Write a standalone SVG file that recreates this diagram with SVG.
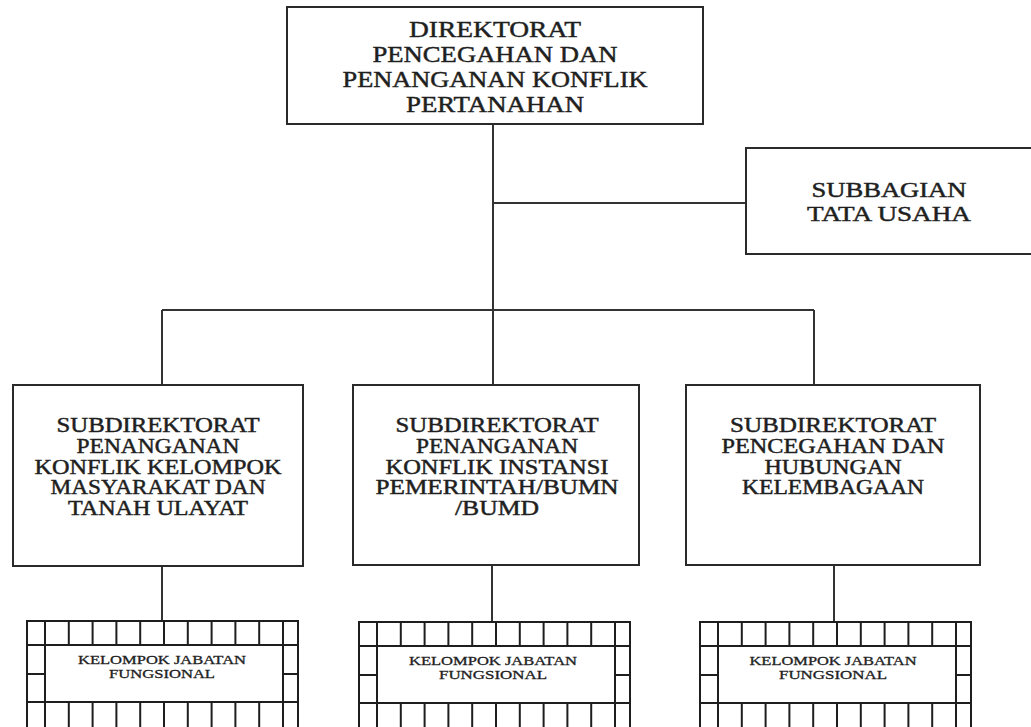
<svg xmlns="http://www.w3.org/2000/svg" xmlns:xlink="http://www.w3.org/1999/xlink" width="1031" height="727" viewBox="0 0 1031 727">
<style>
.box{fill:#fff;stroke:#2a2a2a;stroke-width:2}
.conn{fill:none;stroke:#333;stroke-width:2}
.grid{fill:none;stroke:#1e1e1e;stroke-width:2}
text{font-family:"Liberation Serif","Times New Roman",serif;fill:#1f1f1f;stroke:#1f1f1f;stroke-width:0.45px;text-anchor:middle}
.t1{font-size:23px}
.t2{font-size:21px}
.t3{font-size:20px}
.t4{font-size:12px;stroke-width:0.3px}
</style>
<defs>
<g id="jf-grid">
<rect class="grid" x="0" y="0" width="271" height="107"/>
<path class="grid" d="M0 24H271M0 81H271M18 24V81M256 24V81M0 53H18M256 53H271
M18 0V24M41.8 0V24M65.6 0V24M89.4 0V24M113.2 0V24M137 0V24M160.8 0V24M184.6 0V24M208.4 0V24M232.2 0V24M256 0V24
M18 81V107M41.8 81V107M65.6 81V107M89.4 81V107M113.2 81V107M137 81V107M160.8 81V107M184.6 81V107M208.4 81V107M232.2 81V107M256 81V107"/>
</g>
</defs>
<rect width="1031" height="727" fill="#fff"/>

<g id="connectors">
<path class="conn" d="M493 124V385"/>
<path class="conn" d="M493 203H746"/>
<path class="conn" d="M162 310H814"/>
<path class="conn" d="M162 310V385"/>
<path class="conn" d="M814 310V385"/>
<path class="conn" d="M162 566V621"/>
<path class="conn" d="M492 565V621"/>
<path class="conn" d="M834 565V621"/>
</g>

<g id="direktorat">
<rect class="box" x="287" y="7" width="416" height="117"/>
<text class="t1" x="495" y="37" textLength="172" lengthAdjust="spacingAndGlyphs">DIREKTORAT</text>
<text class="t1" x="495" y="62" textLength="245" lengthAdjust="spacingAndGlyphs">PENCEGAHAN DAN</text>
<text class="t1" x="495" y="87" textLength="305" lengthAdjust="spacingAndGlyphs">PENANGANAN KONFLIK</text>
<text class="t1" x="495" y="112" textLength="178" lengthAdjust="spacingAndGlyphs">PERTANAHAN</text>
</g>

<g id="subbagian-tu">
<rect class="box" x="746" y="148" width="300" height="106"/>
<text class="t2" x="889" y="197" textLength="155" lengthAdjust="spacingAndGlyphs">SUBBAGIAN</text>
<text class="t2" x="889" y="221" textLength="164" lengthAdjust="spacingAndGlyphs">TATA USAHA</text>
</g>

<g id="subdit-1">
<rect class="box" x="13" y="385" width="290" height="181"/>
<text class="t3" x="158" y="432" textLength="203" lengthAdjust="spacingAndGlyphs">SUBDIREKTORAT</text>
<text class="t3" x="158" y="453" textLength="163" lengthAdjust="spacingAndGlyphs">PENANGANAN</text>
<text class="t3" x="158" y="473.5" textLength="247" lengthAdjust="spacingAndGlyphs">KONFLIK KELOMPOK</text>
<text class="t3" x="158" y="494" textLength="215" lengthAdjust="spacingAndGlyphs">MASYARAKAT DAN</text>
<text class="t3" x="158" y="515" textLength="180" lengthAdjust="spacingAndGlyphs">TANAH ULAYAT</text>
</g>

<g id="subdit-2">
<rect class="box" x="353" y="385" width="286" height="180"/>
<text class="t3" x="497" y="432" textLength="203" lengthAdjust="spacingAndGlyphs">SUBDIREKTORAT</text>
<text class="t3" x="497" y="453" textLength="162" lengthAdjust="spacingAndGlyphs">PENANGANAN</text>
<text class="t3" x="497" y="473.5" textLength="223" lengthAdjust="spacingAndGlyphs">KONFLIK INSTANSI</text>
<text class="t3" x="497" y="494" textLength="243" lengthAdjust="spacingAndGlyphs">PEMERINTAH/BUMN</text>
<text class="t3" x="497" y="515" textLength="84" lengthAdjust="spacingAndGlyphs">/BUMD</text>
</g>

<g id="subdit-3">
<rect class="box" x="686" y="385" width="294" height="180"/>
<text class="t3" x="833" y="432" textLength="206" lengthAdjust="spacingAndGlyphs">SUBDIREKTORAT</text>
<text class="t3" x="833" y="453" textLength="223" lengthAdjust="spacingAndGlyphs">PENCEGAHAN DAN</text>
<text class="t3" x="833" y="473.5" textLength="137" lengthAdjust="spacingAndGlyphs">HUBUNGAN</text>
<text class="t3" x="833" y="494" textLength="182" lengthAdjust="spacingAndGlyphs">KELEMBAGAAN</text>
</g>

<g id="jf-1">
<use xlink:href="#jf-grid" href="#jf-grid" transform="translate(27 621)"/>
<text class="t4" x="162" y="664" textLength="168" lengthAdjust="spacingAndGlyphs">KELOMPOK JABATAN</text>
<text class="t4" x="162" y="678" textLength="106" lengthAdjust="spacingAndGlyphs">FUNGSIONAL</text>
</g>

<g id="jf-2">
<use xlink:href="#jf-grid" href="#jf-grid" transform="translate(359 622)"/>
<text class="t4" x="493" y="665" textLength="168" lengthAdjust="spacingAndGlyphs">KELOMPOK JABATAN</text>
<text class="t4" x="493" y="679" textLength="108" lengthAdjust="spacingAndGlyphs">FUNGSIONAL</text>
</g>

<g id="jf-3">
<use xlink:href="#jf-grid" href="#jf-grid" transform="translate(700 622)"/>
<text class="t4" x="833" y="665" textLength="167" lengthAdjust="spacingAndGlyphs">KELOMPOK JABATAN</text>
<text class="t4" x="833" y="679" textLength="108" lengthAdjust="spacingAndGlyphs">FUNGSIONAL</text>
</g>
</svg>
